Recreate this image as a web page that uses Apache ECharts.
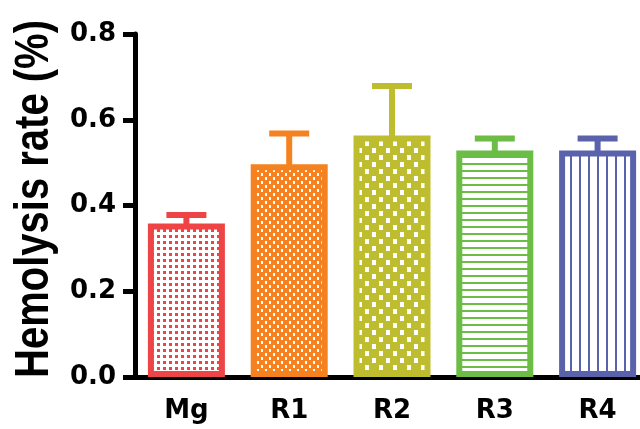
<!DOCTYPE html>
<html>
<head>
<meta charset="utf-8">
<script src="https://cdn.jsdelivr.net/npm/echarts@6/dist/echarts.min.js"></script>
<style>
html,body{margin:0;padding:0;background:#fff;}
#chart{width:640px;height:429px;}
</style>
</head>
<body>
<div id="chart"></div>
<script>
// ---- data ----
var categories = ['Mg', 'R1', 'R2', 'R3', 'R4'];
var means = [0.358, 0.496, 0.563, 0.528, 0.528];
var sds = [0.020, 0.072, 0.116, 0.028, 0.028];
var yTicks = [0.0, 0.2, 0.4, 0.6, 0.8];
var colors = ['#EE4446', '#F58220', '#BEBD2F', '#6BBD45', '#5A62AC'];
var yTitle = 'Hemolysis rate (%)';

// ---- fill patterns ----
function makeCanvas(w, h, bg) {
  var c = document.createElement('canvas');
  c.width = w; c.height = h;
  var ctx = c.getContext('2d');
  ctx.fillStyle = bg; ctx.fillRect(0, 0, w, h);
  return { c: c, ctx: ctx };
}
function patDots(col) { // coloured dots on white
  var p = makeCanvas(6, 6, '#ffffff');
  p.ctx.fillStyle = col; p.ctx.fillRect(1, 1, 3, 3);
  return p.c;
}
function patFineWhite(col) { // colour with small white staggered dots
  var p = makeCanvas(8, 8, col);
  p.ctx.fillStyle = '#ffffff';
  p.ctx.fillRect(1, 1, 2, 3); p.ctx.fillRect(5, 5, 2, 3);
  return p.c;
}
function patChecker(col) { // colour with white staggered squares
  var p = makeCanvas(14, 14, col);
  p.ctx.fillStyle = '#ffffff';
  p.ctx.fillRect(1, 1, 4, 5); p.ctx.fillRect(8, 8, 4, 5);
  return p.c;
}
function patHLines(col) {
  var p = makeCanvas(7, 7, '#ffffff');
  p.ctx.fillStyle = col; p.ctx.fillRect(0, 2, 7, 2);
  return p.c;
}
function patVLines(col) {
  var p = makeCanvas(9, 9, '#ffffff');
  p.ctx.fillStyle = col; p.ctx.fillRect(3, 0, 2, 9);
  return p.c;
}
var patternMakers = [patDots, patFineWhite, patChecker, patHLines, patVLines];

var barData = means.map(function (v, i) {
  return {
    value: v,
    itemStyle: {
      color: { image: patternMakers[i](colors[i]), repeat: 'repeat' },
      borderColor: colors[i],
      borderWidth: 6
    }
  };
});
var errData = means.map(function (v, i) { return [i, v, v + sds[i]]; });

var chart = echarts.init(document.getElementById('chart'), null, { renderer: 'canvas' });
chart.setOption({
  animation: false,
  backgroundColor: '#ffffff',
  grid: { left: 135, top: 34, width: 514, height: 343, outerBoundsMode: 'none', containLabel: false },
  graphic: [{
    type: 'text',
    x: 35, y: 199,
    rotation: Math.PI / 2,
    scaleY: 1.22,
    style: {
      text: yTitle,
      font: 'bold 40px "Liberation Sans", Arial, sans-serif',
      fill: '#000',
      align: 'center',
      verticalAlign: 'middle'
    }
  }],
  xAxis: {
    type: 'category',
    data: categories,
    axisLine: { lineStyle: { color: '#000', width: 5 } },
    axisTick: { alignWithLabel: true, length: 11, lineStyle: { color: '#000', width: 5 } },
    axisLabel: {
      color: '#000', fontFamily: '"DejaVu Sans"', fontWeight: 'bold', fontSize: 26, margin: 21
    }
  },
  yAxis: {
    type: 'value',
    min: 0, max: 0.8, interval: 0.2,
    axisLine: { show: true, lineStyle: { color: '#000', width: 5 } },
    axisTick: { show: true, length: 12, lineStyle: { color: '#000', width: 5 } },
    splitLine: { show: false },
    axisLabel: {
      color: '#000', fontFamily: '"DejaVu Sans"', fontWeight: 'bold', fontSize: 26, margin: 19,
      formatter: function (v) {
        var t = yTicks.filter(function (x) { return Math.abs(x - v) < 1e-9; });
        return (t.length ? t[0] : v).toFixed(1);
      }
    }
  },
  series: [
    {
      type: 'custom',
      z: 1,
      data: errData,
      renderItem: function (params, api) {
        var x = api.value(0);
        var base = api.coord([x, api.value(1)]);
        var top = api.coord([x, api.value(2)]);
        var half = 20;
        var st = { stroke: colors[params.dataIndex], lineWidth: 6 };
        return {
          type: 'group',
          children: [
            { type: 'line', shape: { x1: base[0], y1: base[1] + 4, x2: top[0], y2: top[1] }, style: st },
            { type: 'line', shape: { x1: top[0] - half, y1: top[1], x2: top[0] + half, y2: top[1] }, style: st }
          ]
        };
      }
    },
    {
      type: 'bar',
      z: 2,
      barWidth: 77,
      data: barData
    }
  ]
});
</script>
</body>
</html>
